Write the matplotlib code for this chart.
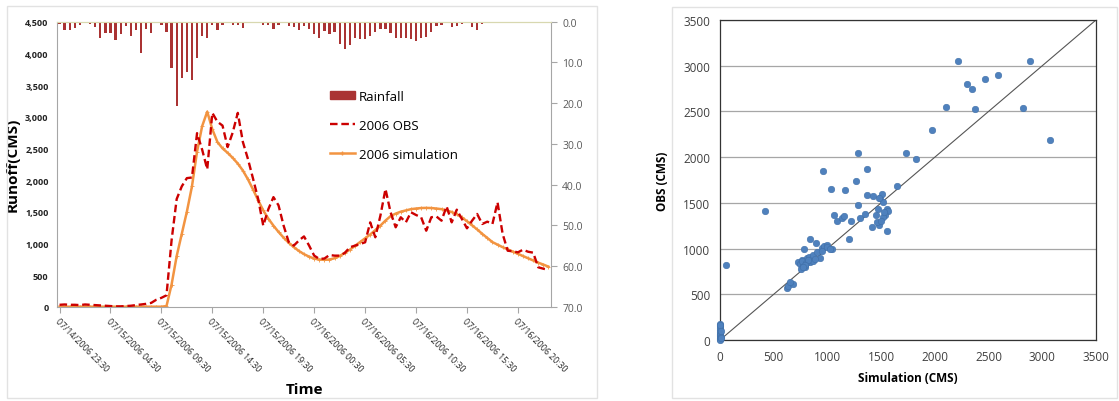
import matplotlib
matplotlib.use("Agg")
import matplotlib.pyplot as plt
import numpy as np
from matplotlib.ticker import FuncFormatter, MultipleLocator
from matplotlib.patches import Rectangle
from matplotlib.lines import Line2D

plt.rcParams['font.family'] = ['Open Sans', 'DejaVu Sans']

# ---------------- data: hydrograph (30-min steps) ----------------
tick_labels = ["07/14/2006 23:30", "07/15/2006 04:30", "07/15/2006 09:30",
               "07/15/2006 14:30", "07/15/2006 19:30", "07/16/2006 00:30",
               "07/16/2006 05:30", "07/16/2006 10:30", "07/16/2006 15:30",
               "07/16/2006 20:30"]

obs_2006 = [30, 35, 30, 30, 25, 35, 30, 25, 20, 15,
            10, 5, 5, 10, 15, 25, 35, 45, 60, 110,
            140, 180, 1050, 1700, 1900, 2030, 2040, 2740, 2480, 2170,
            3060, 2920, 2860, 2520, 2750, 3060, 2600, 2330, 2020, 1700,
            1280, 1540, 1730, 1600, 1280, 1020, 965, 1045, 1110, 965,
            806, 755, 760, 816, 806, 806, 848, 938, 964, 990,
            1017, 1332, 1096, 1437, 1858, 1491, 1254, 1412, 1332, 1491,
            1448, 1412, 1200, 1412, 1425, 1358, 1585, 1332, 1532, 1385,
            1238, 1358, 1464, 1306, 1343, 1306, 1648, 1150, 884, 875,
            858, 900, 868, 853, 622, 600, 580]

sim_2006 = [0, 0, 0, 0, 0, 0, 0, 0, 0, 0,
            0, 0, 0, 0, 0, 0, 0, 0, 0, 0,
            0, 10, 350, 800, 1150, 1500, 1900, 2450, 2850, 3080,
            2800, 2600, 2500, 2430, 2350, 2260, 2150, 2010, 1850, 1680,
            1520, 1390, 1280, 1180, 1090, 1010, 940, 880, 830, 790,
            760, 745, 740, 745, 765, 800, 850, 900, 960, 1020,
            1080, 1140, 1210, 1280, 1360, 1430, 1470, 1500, 1520, 1540,
            1550, 1558, 1560, 1558, 1550, 1540, 1520, 1495, 1460, 1410,
            1350, 1285, 1220, 1150, 1085, 1020, 980, 940, 905, 870,
            835, 800, 765, 730, 695, 665, 632]

rainfall = [0.6, 2.0, 2.0, 1.6, 0.8, 0, 0.6, 1.4, 4.1, 2.8,
            2.8, 4.5, 3.0, 1.1, 3.5, 2.0, 7.8, 1.9, 2.8, 0.3,
            0.7, 2.6, 11.4, 20.6, 13.8, 12.3, 14.2, 8.9, 3.4, 4.0,
            0.7, 2.0, 0.7, 0.2, 0.9, 0.9, 1.6, 0, 0, 0.2,
            0.7, 0.9, 1.8, 0.9, 0.3, 1.1, 1.4, 2.0, 1.0, 1.7,
            2.9, 4.1, 2.2, 2.9, 2.6, 5.6, 6.6, 5.7, 4.1, 4.3,
            4.3, 3.5, 2.5, 1.8, 1.8, 2.8, 4.0, 4.0, 3.9, 4.3,
            4.7, 4.0, 3.7, 2.6, 1.0, 0.7, 0.25, 1.2, 1.0, 0.6,
            0.25, 1.4, 2.0, 0.6, 0.4, 0, 0, 0, 0, 0,
            0, 0, 0, 0, 0, 0, 0]

# ---------------- data: scatter (Simulation vs OBS) ----------------
scatter_sim = [0, 0, 0, 0, 0, 0, 0, 0, 0, 0, 0, 5, 10, 3, 8,
               55, 415,
               620, 636, 680, 652,
               729, 745, 776, 751, 791, 760, 806, 838, 869, 832, 863, 900, 931, 949,
               971, 993, 1043, 780, 894, 840, 760, 800, 820, 790, 770, 880, 950, 1000, 1020,
               1205,
               1064, 1086, 1132, 1157, 1216, 1303, 1350, 1282,
               1412, 1483, 1465, 1452, 1473, 1489, 1520, 1551, 1567, 1536, 1515, 1550, 1500, 1530,
               1365, 1421, 1505, 1477,
               1650, 1030, 1160, 1270, 1370, 960, 1280, 1730, 1820, 1970, 2100, 2370, 2820,
               3070, 2220, 2890, 2300, 2350, 2470, 2590]
scatter_obs = [175, 150, 135, 110, 90, 70, 55, 40, 25, 15, 5, 30, 20, 160, 100,
               815, 1410,
               565, 595, 615, 631,
               857, 832, 821, 777, 796, 880, 894, 851, 869, 905, 931, 967, 894, 1004,
               1026, 1040, 996, 1000, 1058, 1110, 860, 840, 870, 820, 800, 890, 970, 1020, 1000,
               1105,
               1368, 1306, 1332, 1360, 1299, 1332, 1380, 1478,
               1234, 1259, 1288, 1368, 1434, 1551, 1507, 1434, 1416, 1368, 1343, 1195, 1300, 1400,
               1590, 1573, 1595, 1551,
               1680, 1655, 1640, 1740, 1870, 1850, 2040, 2050, 1980, 2300, 2550, 2530, 2540,
               2190, 3050, 3050, 2800, 2740, 2860, 2900]

# ---------------- figure ----------------
W, H = 1119, 402
fig = plt.figure(figsize=(W / 100, H / 100), dpi=100)

# panel frames (Excel chart areas)
fig.patches.append(Rectangle((7 / W, 1 - 399 / H), 590 / W, 392 / H, transform=fig.transFigure,
                             fill=False, edgecolor='#E2E2E2', linewidth=1))
fig.patches.append(Rectangle((672 / W, 1 - 399 / H), 445 / W, 391 / H, transform=fig.transFigure,
                             fill=False, edgecolor='#E2E2E2', linewidth=1))

# ---------- left: hydrograph ----------
L, R, T, B = 57, 551, 22.7, 307.7
ax = fig.add_axes([L / W, 1 - B / H, (R - L) / W, (B - T) / H])
x = np.arange(len(obs_2006))
ax.plot(x, obs_2006, color='#CC0000', linestyle=(0, (3.2, 1.6)), linewidth=1.7, zorder=3)
ax.plot(x, sim_2006, color='#F29441', linewidth=1.8, marker='+', markersize=2.5,
        markeredgewidth=0.6, zorder=2)
ax.set_xlim(-0.5, len(obs_2006) - 0.5)
ax.set_ylim(0, 4500)
ax.yaxis.set_major_locator(MultipleLocator(500))
ax.yaxis.set_major_formatter(FuncFormatter(lambda v, p: f"{int(v):,}"))
ax.set_xticks(np.arange(0, 10 * len(tick_labels), 10))
ax.set_xticklabels(tick_labels, rotation=-45, ha='left', va='top', rotation_mode='anchor',
                   fontsize=6.3, color='#262626')
ax.tick_params(axis='x', length=4, direction='out', color='#A6A6A6', pad=3)
ax.tick_params(axis='y', length=0, labelsize=6.5, colors='#222222', pad=6)
for lbl in ax.get_yticklabels():
    lbl.set_fontweight('bold')
for s in ['left', 'bottom']:
    ax.spines[s].set_color('#A6A6A6')
ax.spines['right'].set_visible(False)
ax.spines['top'].set_color('#D8D8B0')
ax.set_ylabel('Runoff(CMS)', fontsize=11, fontweight='bold', labelpad=4)
ax.set_xlabel('Time', fontsize=11, fontweight='bold', labelpad=2)
ax.xaxis.set_label_coords((305 - L) / (R - L), -(383 - B) / (B - T))

ax2 = ax.twinx()
ax2.bar(x, rainfall, width=0.45, color='#AA3333', zorder=1)
ax2.set_ylim(70, 0)
ax2.yaxis.set_major_locator(MultipleLocator(10))
ax2.yaxis.set_major_formatter(FuncFormatter(lambda v, p: f"{v:.1f}"))
ax2.tick_params(axis='y', length=4, direction='out', labelsize=7.5, colors='#595959', pad=4)
ax2.tick_params(axis='y', color='#A6A6A6')
ax2.spines['right'].set_color('#A6A6A6')
ax2.spines['left'].set_visible(False)
ax2.spines['bottom'].set_visible(False)
ax2.spines['top'].set_color('#D8D8B0')

handles = [Rectangle((0, 0), 1, 1, color='#AA3333'),
           Line2D([], [], color='#CC0000', linestyle=(0, (3.2, 1.6)), linewidth=1.7),
           Line2D([], [], color='#F29441', linewidth=1.8, marker='+', markersize=2.5)]
ax2.legend(handles, ['Rainfall', '2006 OBS', '2006 simulation'], loc='upper left',
           bbox_to_anchor=((318 - L) / (R - L), (307.7 - 79) / (B - T)), frameon=False,
           fontsize=9.5, labelspacing=1.2, handlelength=1.9, handletextpad=0.3,
           handleheight=0.6)

# ---------- right: scatter ----------
L2, R2, T2, B2 = 720, 1096, 21, 341
bx = fig.add_axes([L2 / W, 1 - B2 / H, (R2 - L2) / W, (B2 - T2) / H])
bx.plot([0, 3500], [0, 3500], color='#555555', linewidth=0.8, zorder=2)
bx.scatter(scatter_sim, scatter_obs, s=22, color='#4F81BD', edgecolors='#3F6FA8',
           linewidths=0.4, zorder=3, clip_on=False)
bx.set_xlim(0, 3500)
bx.set_ylim(0, 3500)
bx.xaxis.set_major_locator(MultipleLocator(500))
bx.yaxis.set_major_locator(MultipleLocator(500))
bx.grid(axis='y', color='#A6A6A6', linewidth=0.9)
bx.set_axisbelow(True)
bx.tick_params(length=0, labelsize=8.5, colors='#404040', pad=7)
for s in bx.spines.values():
    s.set_color('#333333')
    s.set_linewidth(0.9)
bx.set_xlabel('Simulation (CMS)', fontsize=8.5, fontweight='bold', labelpad=6)
bx.set_ylabel('OBS (CMS)', fontsize=8.5, fontweight='bold', labelpad=10)

fig.savefig('out.png', dpi=100)
